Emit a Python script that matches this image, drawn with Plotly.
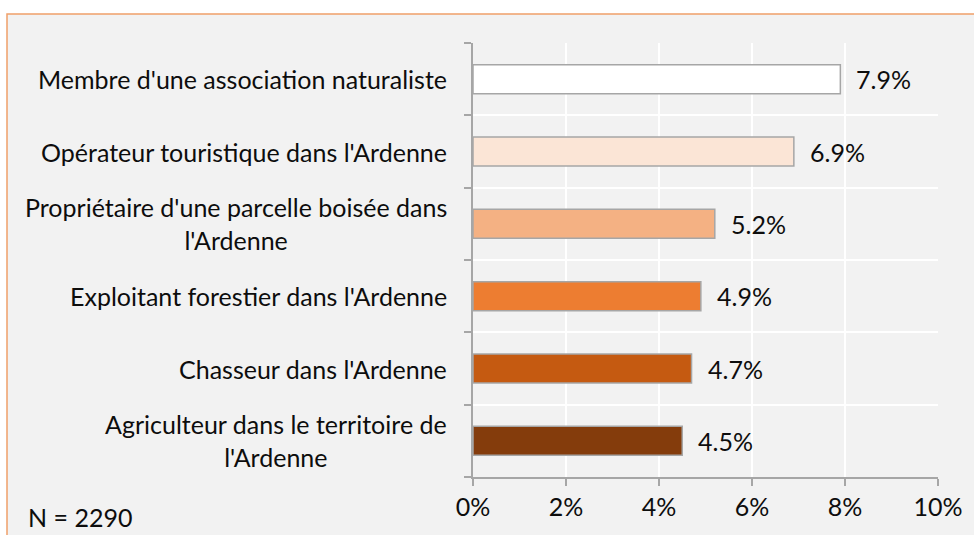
import plotly.graph_objects as go

# Categories listed bottom to top
categories = [
    "Agriculteur dans le territoire de<br>l'Ardenne",
    "Chasseur dans l'Ardenne",
    "Exploitant forestier dans l'Ardenne",
    "Propriétaire d'une parcelle boisée dans<br>l'Ardenne",
    "Opérateur touristique dans l'Ardenne",
    "Membre d'une association naturaliste",
]
values = [0.045, 0.047, 0.049, 0.052, 0.069, 0.079]
bar_colors = ["#843c0c", "#c55a11", "#ed7d31", "#f4b183", "#fbe5d6", "#ffffff"]
x_ticks = [0, 0.02, 0.04, 0.06, 0.08, 0.10]
note = "N = 2290"

FONT = "Lato, 'Open Sans', sans-serif"
FS = 25
W, H = 974, 535
ML, MR, MT, MB = 473, 36, 43, 58
pw = W - ML - MR
ph = H - MT - MB

fig = go.Figure(
    go.Bar(
        y=categories,
        x=values,
        orientation="h",
        marker=dict(color=bar_colors, line=dict(color="#a6a6a6", width=1.5)),
        hoverinfo="skip",
    )
)

# Category labels, centred on each row and right-aligned against the axis
annotations = []
for cat in categories:
    annotations.append(dict(
        x=0, xref="paper", y=cat, yref="y", xanchor="right", yanchor="middle",
        xshift=-24, text=cat, showarrow=False, align="center",
        font=dict(family=FONT, size=FS, color="#0d0d0d"),
    ))
# Value labels to the right of each bar
for cat, v in zip(categories, values):
    annotations.append(dict(
        x=v, xref="x", y=cat, yref="y", xanchor="left", yanchor="middle",
        xshift=14, text=f"{v * 100:.1f}%", showarrow=False,
        font=dict(family=FONT, size=FS, color="#0d0d0d"),
    ))
# Sample size note in the lower-left corner
annotations.append(dict(
    x=(26 - ML) / pw, xref="paper", y=-(534 - (H - MB)) / ph, yref="paper",
    xanchor="left", yanchor="bottom", text=note, showarrow=False,
    font=dict(family=FONT, size=FS, color="#0d0d0d"),
))

fig.update_layout(
    width=W, height=H,
    margin=dict(l=ML, r=MR, t=MT, b=MB, pad=0),
    paper_bgcolor="#ffffff",
    plot_bgcolor="rgba(0,0,0,0)",
    bargap=0.6,
    showlegend=False,
    annotations=annotations,
    shapes=[dict(
        type="rect", xref="paper", yref="paper", layer="below",
        x0=(7 - ML) / pw, x1=(W + 20 - ML) / pw,
        y0=-(H + 20 - (H - MB)) / ph, y1=1 + (MT - 14) / ph,
        fillcolor="#f2f2f2", line=dict(color="#f0a06a", width=1.5),
    )],
    xaxis=dict(
        range=[0, 0.10], tickvals=x_ticks, tickformat=".0%",
        showgrid=True, gridcolor="#ffffff", gridwidth=1.5,
        showline=True, linecolor="#a6a6a6", linewidth=1.5,
        ticks="outside", ticklen=7, tickcolor="#a6a6a6", tickwidth=1.5,
        tickfont=dict(family=FONT, size=FS, color="#0d0d0d"),
        zeroline=False, fixedrange=True,
    ),
    yaxis=dict(
        type="category", categoryorder="array", categoryarray=categories,
        tickson="boundaries", showticklabels=False,
        showgrid=True, gridcolor="#ffffff", gridwidth=1.5,
        showline=True, linecolor="#a6a6a6", linewidth=1.5,
        ticks="outside", ticklen=7, tickcolor="#a6a6a6", tickwidth=1.5,
        zeroline=False, fixedrange=True,
    ),
)

fig.write_html("out.html", config={"displayModeBar": False})
